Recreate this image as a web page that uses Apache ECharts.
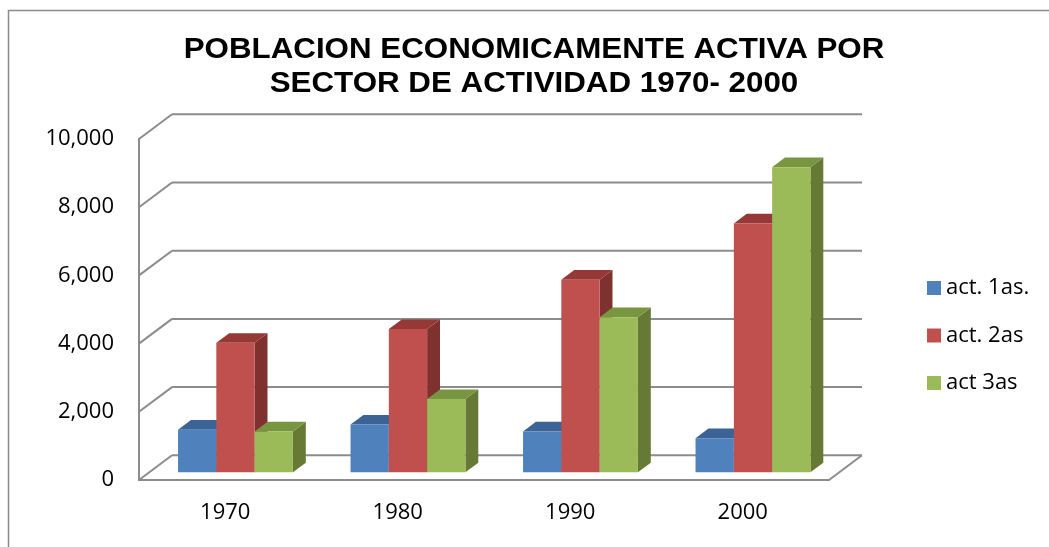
<!DOCTYPE html>
<html>
<head>
<meta charset="utf-8">
<script src="https://cdn.jsdelivr.net/npm/echarts@6/dist/echarts.min.js"></script>
<style>
  html, body { margin: 0; padding: 0; background: #fff; }
  #chart { width: 1049px; height: 547px; }
</style>
</head>
<body>
<div id="chart"></div>
<script>
const categories = ['1970', '1980', '1990', '2000']
const act1 = [1250, 1400, 1200, 1000]
const act2 = [3800, 4200, 5650, 7300]
const act3 = [1200, 2150, 4550, 8950]
const yTicks = [0, 2000, 4000, 6000, 8000, 10000]

// oblique depth of the box (front plane -> back wall)
const DX = 33
const DY = -24.7
// bars sit between these depth fractions
const F1 = 0.31
const F2 = 0.70
const BAR_RATIO = 0.222
const LINE = '#8c8c8c'

const colors = [
  { front: '#4F81BD', top: '#3B6396', side: '#32537C' },
  { front: '#C0504D', top: '#953836', side: '#7F312F' },
  { front: '#9BBB59', top: '#789640', side: '#667A35' }
]

function barRenderer(s) {
  return function (params, api) {
    const idx = api.value(0)
    const val = api.value(1)
    const top = api.coord([idx, val])
    const base = api.coord([idx, 0])
    const band = api.size([1, 0])[0]
    const bw = band * BAR_RATIO
    const x0 = top[0] - 1.5 * bw + s * bw + F1 * DX
    const x1 = x0 + bw
    const yT = top[1] + F1 * DY
    const yB = base[1] + F1 * DY
    const dx = (F2 - F1) * DX
    const dy = (F2 - F1) * DY
    const c = colors[s]
    return {
      type: 'group',
      children: [
        {
          type: 'polygon',
          shape: { points: [[x1, yT], [x1, yB], [x1 + dx, yB + dy], [x1 + dx, yT + dy]] },
          style: { fill: c.side }
        },
        {
          type: 'polygon',
          shape: { points: [[x0, yT], [x1, yT], [x1 + dx, yT + dy], [x0 + dx, yT + dy]] },
          style: { fill: c.top }
        },
        {
          type: 'rect',
          shape: { x: x0, y: yT, width: bw, height: yB - yT },
          style: { fill: c.front }
        }
      ]
    }
  }
}

function wallRenderer(params, api) {
  const cs = params.coordSys
  const v = api.value(0)
  const y = api.coord([0, v])[1]
  const left = cs.x
  const right = cs.x + cs.width
  const children = [
    {
      type: 'line',
      shape: { x1: left, y1: y, x2: left + DX, y2: y + DY },
      style: { stroke: LINE, lineWidth: 2 }
    },
    {
      type: 'line',
      shape: { x1: left + DX, y1: y + DY, x2: right + DX, y2: y + DY },
      style: { stroke: LINE, lineWidth: 2 }
    }
  ]
  if (v === 0) {
    children.push({
      type: 'line',
      shape: { x1: right, y1: y, x2: right + DX, y2: y + DY },
      style: { stroke: LINE, lineWidth: 2 }
    })
  }
  return { type: 'group', children: children }
}

const names = ['act. 1as.', 'act. 2as', 'act 3as']
const values = [act1, act2, act3]

const barSeries = values.map((arr, s) => ({
  name: names[s],
  type: 'custom',
  renderItem: barRenderer(s),
  itemStyle: { color: colors[s].front },
  encode: { x: 0, y: 1 },
  data: arr.map((v, i) => [i, v]),
  z: 3
}))

const option = {
  backgroundColor: '#fff',
  animation: false,
  graphic: [
    {
      type: 'rect',
      shape: { x: 8.5, y: 10.5, width: 1100, height: 600 },
      style: { fill: 'none', stroke: '#8a8a8a', lineWidth: 1.5 },
      silent: true
    },
    {
      type: 'text',
      x: 534,
      y: 67,
      scaleX: 1.08,
      style: {
        text: 'POBLACION ECONOMICAMENTE ACTIVA POR\nSECTOR DE ACTIVIDAD 1970- 2000',
        align: 'center',
        verticalAlign: 'middle',
        font: 'bold 29px "Liberation Sans"',
        lineHeight: 34,
        fill: '#000'
      }
    }
  ],
  legend: {
    data: names,
    orient: 'vertical',
    left: 922,
    top: 272,
    icon: 'rect',
    itemWidth: 14,
    itemHeight: 14,
    itemGap: 25.5,
    textStyle: {
      fontFamily: 'Open Sans',
      fontSize: 22,
      lineHeight: 22,
      color: '#000'
    }
  },
  grid: {
    left: 139,
    right: 220,
    top: 139,
    bottom: 67
  },
  xAxis: {
    type: 'category',
    data: categories,
    axisLine: { lineStyle: { color: LINE, width: 2 } },
    axisTick: { show: false },
    axisLabel: {
      margin: 22,
      fontFamily: 'Open Sans',
      fontSize: 22,
      color: '#000'
    }
  },
  yAxis: {
    type: 'value',
    min: 0,
    max: 10000,
    interval: 2000,
    axisLine: { show: true, lineStyle: { color: LINE, width: 2 } },
    axisTick: { show: false },
    splitLine: { show: false },
    axisLabel: {
      margin: 25,
      fontFamily: 'Open Sans',
      fontSize: 22,
      color: '#000',
      formatter: v => v.toLocaleString('en-US')
    }
  },
  series: [
    {
      name: 'walls',
      type: 'custom',
      renderItem: wallRenderer,
      encode: { y: 0 },
      data: yTicks.map(v => [v]),
      silent: true,
      z: 1
    }
  ].concat(barSeries)
}

const chart = echarts.init(document.getElementById('chart'))
chart.setOption(option)
</script>
</body>
</html>
